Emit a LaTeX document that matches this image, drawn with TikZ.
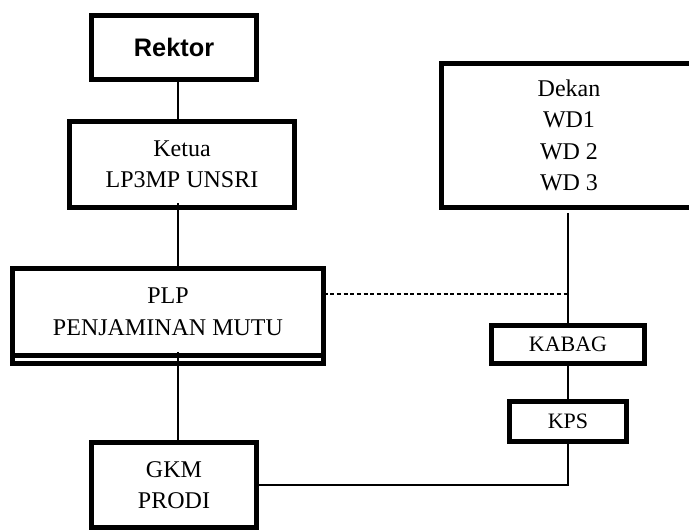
\documentclass[tikz,border=0pt]{standalone}
\usepackage{fontspec}
\setmainfont{Liberation Serif}
\newfontfamily\arialfont{Liberation Sans}
\tikzset{unit/.style={draw,line width=3.75pt,inner sep=0pt,outer sep=0pt,align=center,
    font=\fontsize{18}{23.5}\selectfont}}
\tikzset{smallunit/.style={unit,font=\fontsize{16.5}{20}\selectfont}}

\begin{document}
\begin{tikzpicture}[x=0.75pt,y=-0.75pt,link/.style={line width=1.1pt}]
            \useasboundingbox (0,0) rectangle (689,530);

            \node[unit,minimum width=123.75pt,minimum height=48pt,
                font=\arialfont\bfseries\fontsize{19}{22}\selectfont] (rektor) at (174,47.5) {Rektor};
            \node[unit,minimum width=168.75pt,minimum height=64.5pt] (ketua) at (182,164.5) {Ketua\\LP3MP UNSRI};
            \node[unit,minimum width=233.25pt,minimum height=64.9pt] (plp) at (168,311.75) {PLP\\PENJAMINAN MUTU};
            \node[unit,minimum width=123.75pt,minimum height=63.75pt] (gkm) at (174,485) {GKM\\PRODI};
            \node[unit,minimum width=191.25pt,minimum height=108pt] (dekan) at (569,135.5) {Dekan\\WD1\\WD 2\\WD 3};
            \node[smallunit,minimum width=114.75pt,minimum height=28.5pt] (kabag) at (568,344.5) {KABAG};
            \node[smallunit,minimum width=87.75pt,minimum height=30pt] (kps) at (568,421.5) {KPS};

            % second line under PLP
            \draw[line width=3.75pt] (plp.south west) -- ++(0,8) -| (plp.south east);

            \coordinate (axis) at (178,0);
            \coordinate (col) at (568,294);

            \draw[link] (rektor.south -| axis) -- (ketua.north -| axis);
            \draw[link] (ketua.south -| axis) ++(0,-4) -- (plp.north -| axis);
            \draw[link] (plp.south -| axis) ++(0,-3) -- (gkm.north -| axis);
            \draw[link] (dekan.south -| kabag) ++(0,5.5) -- (kabag.north);
            \draw[link,dash pattern=on 3pt off 2pt] (col -| plp.east) -- (col);
            \draw[link] (kabag.south) -- (kps.north);
            \draw[link] (kps.south) |- (gkm.east);
        \end{tikzpicture}
\end{document}
